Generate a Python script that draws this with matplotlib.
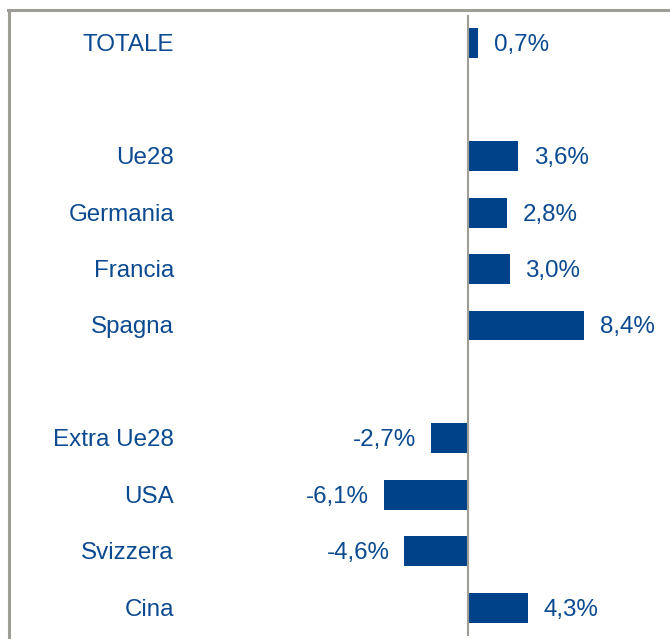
import matplotlib
matplotlib.use("Agg")
import matplotlib.pyplot as plt
from matplotlib.lines import Line2D

categories = ["TOTALE", "", "Ue28", "Germania", "Francia", "Spagna", "",
              "Extra Ue28", "USA", "Svizzera", "Cina"]
values = [0.7, None, 3.6, 2.8, 3.0, 8.4, None, -2.7, -6.1, -4.6, 4.3]

BAR = "#00428A"
TXT = "#0B4A90"
GRAY = "#9E9E96"

plt.rcParams["font.family"] = ["Liberation Sans", "DejaVu Sans"]

W, H = 670, 639
fig = plt.figure(figsize=(W / 100, H / 100), dpi=100)

# axes: pixel x 8..668, y 15..636
ax = fig.add_axes([8 / W, 1 - 636 / H, 660 / W, 621 / H])
pxper = 13.85
x0 = 468
ax.set_xlim((8 - x0) / pxper, (668 - x0) / pxper)
ax.set_ylim(len(categories) - 0.5, -0.5)
ax.axis("off")

FS = 17.4
dy = 0.035
for i, (c, v) in enumerate(zip(categories, values)):
    if c:
        ax.text((174 - x0) / pxper, i + dy, c, ha="right", va="center",
                fontsize=FS, color=TXT)
    if v is None:
        continue
    ax.barh(i, v, height=0.53, color=BAR, zorder=2)
    lab = f"{v:.1f}%".replace(".", ",")
    if v >= 0:
        ax.text(v + 1.15, i + dy, lab, ha="left", va="center", fontsize=FS, color=TXT)
    else:
        ax.text(v - 1.05, i + dy, lab, ha="right", va="center", fontsize=FS, color=TXT)

ax.axvline(0, color=GRAY, lw=1.5, zorder=3)

# frame lines (left and top)
fig.add_artist(Line2D([8.5 / W, 8.5 / W], [0, 1 - 10 / H], color=GRAY, lw=2.2,
                      transform=fig.transFigure))
fig.add_artist(Line2D([8 / W, 1], [1 - 10 / H, 1 - 10 / H], color=GRAY, lw=2.2,
                      transform=fig.transFigure))

fig.savefig("out.png", dpi=100, facecolor="white")
